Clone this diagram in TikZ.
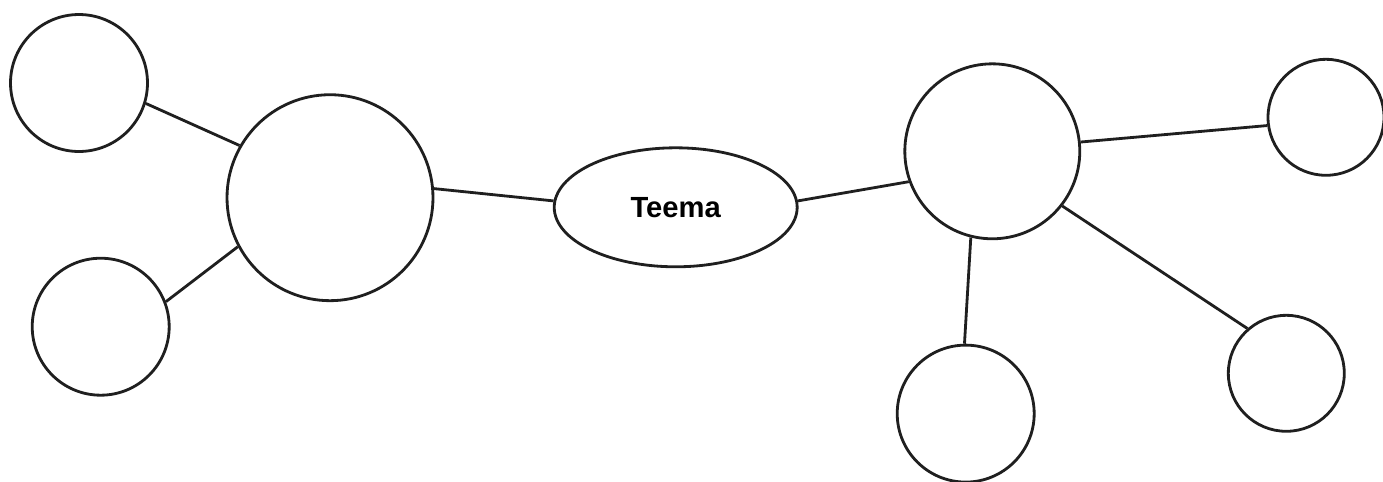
\documentclass[tikz,border=0pt]{standalone}
\usepackage{fontspec}
\setmainfont{Liberation Sans}
\usetikzlibrary{shapes.geometric}

\begin{document}
\begin{tikzpicture}[
        x=0.02cm, y=-0.02cm, % 1 unit = 1 pixel of the sketch
        line width=1.6pt, draw=black!88,
        ring/.style={circle, draw, inner sep=0pt}, % circles
        small/.style={ring, minimum size=2.74cm},
        tiny/.style={ring, minimum size=2.32cm},
        big/.style={ring, minimum size=4.12cm},
        teemastyle/.style={ellipse, draw, minimum width=4.86cm, minimum height=2.38cm,
            font=\fontsize{16.6}{20}\selectfont\bfseries},
    ]
    \useasboundingbox (0,0) rectangle (1383,481);

    \node[teemastyle] (teema) at (675.7,207.3) {Teema};

    % left side
    \node[big]   (vasak)  at (330,197.7) {};
    \node[small] (vasak1) at (79,83) {};
    \node[small] (vasak2) at (100.7,326.7) {};

    % right side
    \node[ring, minimum size=3.5cm] (parem) at (992.3,151.3) {};
    \node[tiny]  (parem1) at (1326,117.3) {};
    \node[tiny]  (parem2) at (1286.3,373.3) {};
    \node[small] (parem3) at (965.7,413.6) {};

    \draw (vasak1.-17) -- (vasak.150);
    \draw (vasak2.21) -- (vasak.208);
    \draw (vasak.5.5) -- (teema.177);
    \draw (teema.3) -- (parem.200);
    \draw (parem.6.6) -- (parem1.188);
    \draw (parem.-38.7) -- (parem2.131);
    \draw (parem.256.7) -- (parem3.91);
\end{tikzpicture}
\end{document}
